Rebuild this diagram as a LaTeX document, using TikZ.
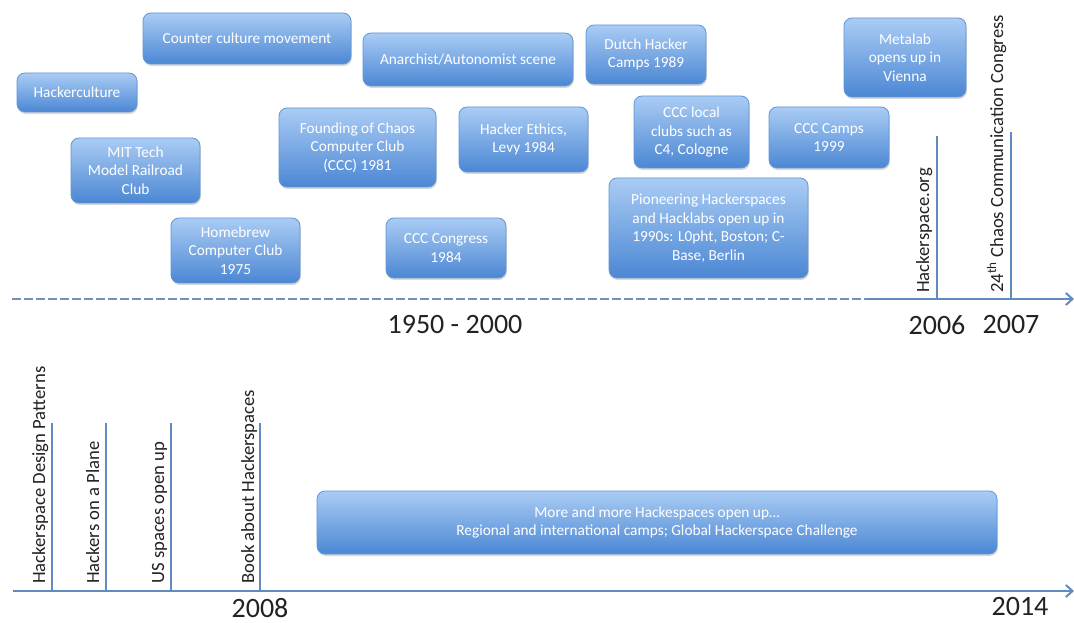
\documentclass[tikz,border=0pt]{standalone}
\usepackage{fontspec}
\setmainfont{Carlito}
\usetikzlibrary{shadows,arrows.meta}
\definecolor{boxtop}{HTML}{AACCF4}
\definecolor{boxbot}{HTML}{4B87D4}
\definecolor{boxline}{HTML}{6396D6}
\definecolor{axiscol}{HTML}{5F8BC0}
\definecolor{dashcol}{HTML}{7391B3}
\definecolor{txtcol}{HTML}{222222}
\begin{document}
\begin{tikzpicture}[x=0.75pt,y=-0.75pt,
  box/.style={rounded corners=6pt, top color=boxtop, bottom color=boxbot,
    draw=boxline, line width=0.6pt,
    drop shadow={opacity=0.3, shadow xshift=0.6pt, shadow yshift=-1.5pt},
    text=white, align=center, font=\fontsize{11.5}{14}\selectfont, inner sep=0pt},
  axisline/.style={draw=axiscol, line width=2pt},
  dashline/.style={draw=dashcol, line width=2pt, dash pattern=on 6.5pt off 2.5pt},
  tick/.style={draw=axiscol, line width=1.8pt},
  vlabel/.style={rotate=90, anchor=base west, inner sep=0pt, text=txtcol,
    font=\fontsize{14}{16}\selectfont},
  year/.style={text=txtcol, inner sep=0pt, font=\fontsize{21}{25}\selectfont}]
\useasboundingbox[fill=white] (0,0) rectangle (1074,623);

% boxes
\node[box, minimum width=90pt, minimum height=29.25pt] (hc) at (77,92.5) {Hackerculture};
\node[box, minimum width=156pt, minimum height=38.25pt] (ccm) at (247,38.5) {Counter culture movement};
\node[box, minimum width=96.75pt, minimum height=48.75pt] (mit) at (135.5,170.5) {MIT Tech\\Model Railroad\\Club};
\node[box, minimum width=96.75pt, minimum height=48.75pt] (hb) at (235.5,250.5) {Homebrew\\Computer Club\\1975};
\node[box, minimum width=117.75pt, minimum height=59.25pt] (fcc) at (357.5,147.5) {Founding of Chaos\\Computer Club\\(CCC) 1981};
\node[box, minimum width=157.5pt, minimum height=39.75pt] (anar) at (468,59.5) {Anarchist/Autonomist scene};
\node[box, minimum width=90pt, minimum height=44.25pt] (dutch) at (646,54.5) {Dutch Hacker\\Camps 1989};
\node[box, minimum width=96.75pt, minimum height=48.75pt] (ethic) at (523.5,139.5) {Hacker Ethics,\\Levy 1984};
\node[box, minimum width=90pt, minimum height=45pt] (cccc) at (446,248) {CCC Congress\\1984};
\node[box, minimum width=86.25pt, minimum height=54pt] (local) at (691.5,132) {CCC local\\clubs such as\\C4, Cologne};
\node[box, minimum width=149.25pt, minimum height=75pt] (pion) at (708.5,228) {Pioneering Hackerspaces\\and Hacklabs open up in\\1990s: L0pht, Boston; C-\\Base, Berlin};
\node[box, minimum width=90pt, minimum height=45.75pt] (camps) at (829,137.5) {CCC Camps\\1999};
\node[box, minimum width=91.5pt, minimum height=59.25pt] (meta) at (905,57.5) {Metalab\\opens up in\\Vienna};
\node[box, minimum width=510pt, minimum height=47.25pt] (more) at (657,522.5) {More and more Hackespaces open up…\\Regional and international camps; Global Hackerspace Challenge};

% top timeline
\coordinate (t1s) at (12,299);
\coordinate (t1m) at (868,299);
\coordinate (t1e) at (1074,299);
\draw[dashline] (t1s) -- (t1m);
\draw[axisline, -{Straight Barb[length=5pt,width=9pt,line width=1.5pt]}] (t1m) -- (t1e);

\coordinate (v06b) at (937,299); \coordinate (v06t) at (937,136);
\coordinate (v07b) at (1011,299); \coordinate (v07t) at (1011,132);
\draw[tick] (v06b) -- (v06t);
\draw[tick] (v07b) -- (v07t);
\node[vlabel] (lhs) at (929,293) {Hackerspace.org};
\node[vlabel] (lccc) at (1003,293) {24\textsuperscript{th} Chaos Communication Congress};

\node[year] (y1) at (455,325) {1950 - 2000};
\node[year] (y2) at (937,325) {2006};
\node[year] (y3) at (1011,325) {2007};

% bottom timeline
\coordinate (t2s) at (13,591);
\coordinate (t2e) at (1074,591);
\draw[axisline, -{Straight Barb[length=5pt,width=9pt,line width=1.5pt]}] (t2s) -- (t2e);

\coordinate (b1b) at (52,591); \coordinate (b1t) at (52,423);
\coordinate (b2b) at (106,591); \coordinate (b2t) at (106,423);
\coordinate (b3b) at (171,591); \coordinate (b3t) at (171,423);
\coordinate (b4b) at (260,591); \coordinate (b4t) at (260,423);
\draw[tick] (b1b) -- (b1t);
\draw[tick] (b2b) -- (b2t);
\draw[tick] (b3b) -- (b3t);
\draw[tick] (b4b) -- (b4t);
\node[vlabel] (l1) at (45,584) {Hackerspace Design Patterns};
\node[vlabel] (l2) at (99,584) {Hackers on a Plane};
\node[vlabel] (l3) at (164,584) {US spaces open up};
\node[vlabel] (l4) at (254,584) {Book about Hackerspaces};

\node[year] (y4) at (260,608) {2008};
\node[year] (y5) at (1020,607) {2014};
\end{tikzpicture}
\end{document}
